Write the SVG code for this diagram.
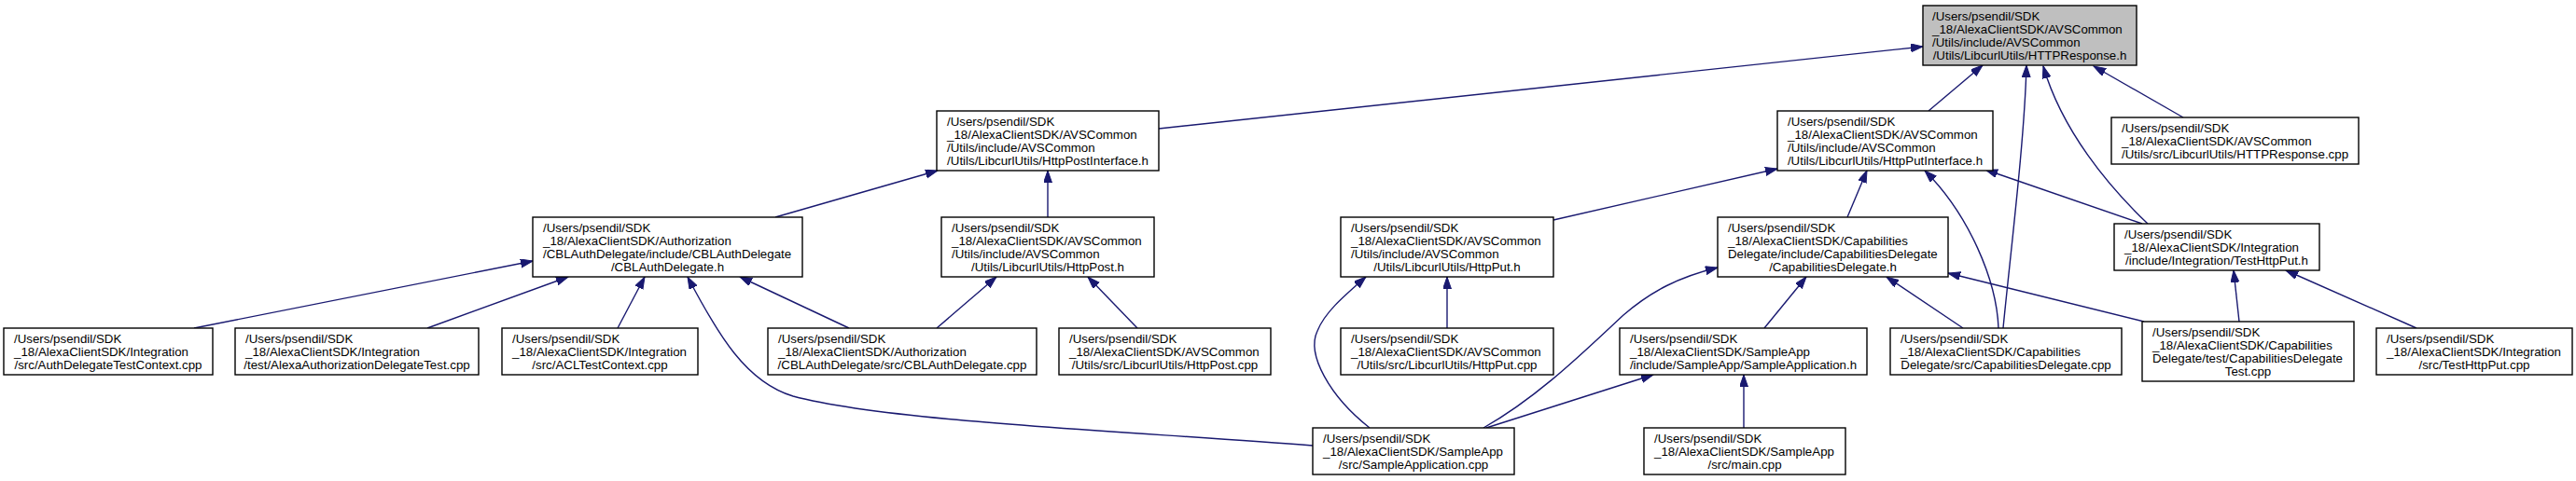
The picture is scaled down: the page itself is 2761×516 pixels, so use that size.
<svg xmlns="http://www.w3.org/2000/svg" width="2761" height="516" viewBox="0 0 2761 516">
<style>
.n rect{fill:#ffffff;stroke:#000000;stroke-width:1.4}
#root rect{fill:#bfbfbf}
text{font-family:"Liberation Sans",Arial,sans-serif;font-size:13.3px;fill:#000000}
.m{text-anchor:middle}
#edges path{fill:none;stroke:#191970;stroke-width:1.4;marker-end:url(#ah)}
</style>
<defs>
<marker id="ah" markerUnits="userSpaceOnUse" markerWidth="14" markerHeight="10" refX="13" refY="4.5" orient="auto">
<path d="M0,0 L13,4.5 L0,9 z" fill="#191970" stroke="#191970" stroke-width="1"/>
</marker>
</defs>
<rect width="2761" height="516" fill="#ffffff"/>
<g id="edges">
<path d="M1242,138 L2061,50"/>
<path d="M2067,119 L2125,70"/>
<path d="M2147,352 C2155,270 2170,150 2172,70"/>
<path d="M2302,240 C2260,200 2210,140 2190,71"/>
<path d="M2340,126 L2244,71"/>
<path d="M831,233 L1005,183"/>
<path d="M1123,233 L1123,183"/>
<path d="M1665,236 L1905,181"/>
<path d="M1980,233 L2001,183"/>
<path d="M2142,352 C2140,300 2110,230 2063,183"/>
<path d="M2296,240 L2128,182"/>
<path d="M208,352 L571,280"/>
<path d="M458,352 L609,297"/>
<path d="M662,352 L691,297"/>
<path d="M1407,478 C1200,462 950,452 850,425 C800,410 770,360 737,297"/>
<path d="M910,352 L793,297"/>
<path d="M1004,352 L1068,297"/>
<path d="M1219,352 L1166,297"/>
<path d="M1468,459 C1425,425 1400,380 1412,355 C1420,335 1440,318 1464,297"/>
<path d="M1551,352 L1551,297"/>
<path d="M1590,459 C1650,425 1700,375 1740,338 C1770,312 1800,297 1841,287"/>
<path d="M1593,459 L1772,402"/>
<path d="M1869,459 L1869,402"/>
<path d="M1891,352 L1936,297"/>
<path d="M2104,352 L2022,297"/>
<path d="M2298,345 L2088,293"/>
<path d="M2400,345 L2394,290"/>
<path d="M2590,352 L2450,290"/>
</g>
<g id="root" class="n"><rect x="2061" y="6" width="229" height="64"/>
<text x="2071" y="21.5">/Users/psendil/SDK</text><text x="2071" y="35.5">_18/AlexaClientSDK/AVSCommon</text><text x="2071" y="49.5">/Utils/include/AVSCommon</text><text class="m" x="2175.5" y="63.5">/Utils/LibcurlUtils/HTTPResponse.h</text></g>
<g id="hpi" class="n"><rect x="1004" y="119" width="238" height="64"/>
<text x="1015" y="134.5">/Users/psendil/SDK</text><text x="1015" y="148.5">_18/AlexaClientSDK/AVSCommon</text><text x="1015" y="162.5">/Utils/include/AVSCommon</text><text class="m" x="1123" y="176.5">/Utils/LibcurlUtils/HttpPostInterface.h</text></g>
<g id="hui" class="n"><rect x="1905" y="119" width="231" height="64"/>
<text x="1916" y="134.5">/Users/psendil/SDK</text><text x="1916" y="148.5">_18/AlexaClientSDK/AVSCommon</text><text x="1916" y="162.5">/Utils/include/AVSCommon</text><text class="m" x="2020.5" y="176.5">/Utils/LibcurlUtils/HttpPutInterface.h</text></g>
<g id="hrc" class="n"><rect x="2263" y="126" width="265" height="50"/>
<text x="2274" y="142">/Users/psendil/SDK</text><text x="2274" y="156">_18/AlexaClientSDK/AVSCommon</text><text class="m" x="2395.5" y="170">/Utils/src/LibcurlUtils/HTTPResponse.cpp</text></g>
<g id="cblh" class="n"><rect x="571" y="233" width="289" height="64"/>
<text x="582" y="248.5">/Users/psendil/SDK</text><text x="582" y="262.5">_18/AlexaClientSDK/Authorization</text><text x="582" y="276.5">/CBLAuthDelegate/include/CBLAuthDelegate</text><text class="m" x="715.5" y="290.5">/CBLAuthDelegate.h</text></g>
<g id="hph" class="n"><rect x="1009" y="233" width="228" height="64"/>
<text x="1020" y="248.5">/Users/psendil/SDK</text><text x="1020" y="262.5">_18/AlexaClientSDK/AVSCommon</text><text x="1020" y="276.5">/Utils/include/AVSCommon</text><text class="m" x="1123" y="290.5">/Utils/LibcurlUtils/HttpPost.h</text></g>
<g id="huh" class="n"><rect x="1437" y="233" width="228" height="64"/>
<text x="1448" y="248.5">/Users/psendil/SDK</text><text x="1448" y="262.5">_18/AlexaClientSDK/AVSCommon</text><text x="1448" y="276.5">/Utils/include/AVSCommon</text><text class="m" x="1551" y="290.5">/Utils/LibcurlUtils/HttpPut.h</text></g>
<g id="cdh" class="n"><rect x="1841" y="233" width="247" height="64"/>
<text x="1852" y="248.5">/Users/psendil/SDK</text><text x="1852" y="262.5">_18/AlexaClientSDK/Capabilities</text><text x="1852" y="276.5">Delegate/include/CapabilitiesDelegate</text><text class="m" x="1964.5" y="290.5">/CapabilitiesDelegate.h</text></g>
<g id="thh" class="n"><rect x="2266" y="240" width="220" height="50"/>
<text x="2277" y="256">/Users/psendil/SDK</text><text x="2277" y="270">_18/AlexaClientSDK/Integration</text><text class="m" x="2376" y="284">/include/Integration/TestHttpPut.h</text></g>
<g id="adtc" class="n"><rect x="4" y="352" width="224" height="50"/>
<text x="15" y="368">/Users/psendil/SDK</text><text x="15" y="382">_18/AlexaClientSDK/Integration</text><text class="m" x="116" y="396">/src/AuthDelegateTestContext.cpp</text></g>
<g id="aadt" class="n"><rect x="252" y="352" width="261" height="50"/>
<text x="263" y="368">/Users/psendil/SDK</text><text x="263" y="382">_18/AlexaClientSDK/Integration</text><text class="m" x="382.5" y="396">/test/AlexaAuthorizationDelegateTest.cpp</text></g>
<g id="acl" class="n"><rect x="538" y="352" width="210" height="50"/>
<text x="549" y="368">/Users/psendil/SDK</text><text x="549" y="382">_18/AlexaClientSDK/Integration</text><text class="m" x="643" y="396">/src/ACLTestContext.cpp</text></g>
<g id="cblc" class="n"><rect x="823" y="352" width="288" height="50"/>
<text x="834" y="368">/Users/psendil/SDK</text><text x="834" y="382">_18/AlexaClientSDK/Authorization</text><text class="m" x="967" y="396">/CBLAuthDelegate/src/CBLAuthDelegate.cpp</text></g>
<g id="hpc" class="n"><rect x="1135" y="352" width="227" height="50"/>
<text x="1146" y="368">/Users/psendil/SDK</text><text x="1146" y="382">_18/AlexaClientSDK/AVSCommon</text><text class="m" x="1248.5" y="396">/Utils/src/LibcurlUtils/HttpPost.cpp</text></g>
<g id="huc" class="n"><rect x="1437" y="352" width="228" height="50"/>
<text x="1448" y="368">/Users/psendil/SDK</text><text x="1448" y="382">_18/AlexaClientSDK/AVSCommon</text><text class="m" x="1551" y="396">/Utils/src/LibcurlUtils/HttpPut.cpp</text></g>
<g id="sah" class="n"><rect x="1736" y="352" width="265" height="50"/>
<text x="1747" y="368">/Users/psendil/SDK</text><text x="1747" y="382">_18/AlexaClientSDK/SampleApp</text><text class="m" x="1868.5" y="396">/include/SampleApp/SampleApplication.h</text></g>
<g id="cdc" class="n"><rect x="2026" y="352" width="248" height="50"/>
<text x="2037" y="368">/Users/psendil/SDK</text><text x="2037" y="382">_18/AlexaClientSDK/Capabilities</text><text class="m" x="2150" y="396">Delegate/src/CapabilitiesDelegate.cpp</text></g>
<g id="cdt" class="n"><rect x="2296" y="345" width="227" height="64"/>
<text x="2307" y="360.5">/Users/psendil/SDK</text><text x="2307" y="374.5">_18/AlexaClientSDK/Capabilities</text><text x="2307" y="388.5">Delegate/test/CapabilitiesDelegate</text><text class="m" x="2409.5" y="402.5">Test.cpp</text></g>
<g id="thc" class="n"><rect x="2547" y="352" width="210" height="50"/>
<text x="2558" y="368">/Users/psendil/SDK</text><text x="2558" y="382">_18/AlexaClientSDK/Integration</text><text class="m" x="2652" y="396">/src/TestHttpPut.cpp</text></g>
<g id="sac" class="n"><rect x="1407" y="459" width="216" height="50"/>
<text x="1418" y="475">/Users/psendil/SDK</text><text x="1418" y="489">_18/AlexaClientSDK/SampleApp</text><text class="m" x="1515" y="503">/src/SampleApplication.cpp</text></g>
<g id="main" class="n"><rect x="1762" y="459" width="216" height="50"/>
<text x="1773" y="475">/Users/psendil/SDK</text><text x="1773" y="489">_18/AlexaClientSDK/SampleApp</text><text class="m" x="1870" y="503">/src/main.cpp</text></g>
</svg>
